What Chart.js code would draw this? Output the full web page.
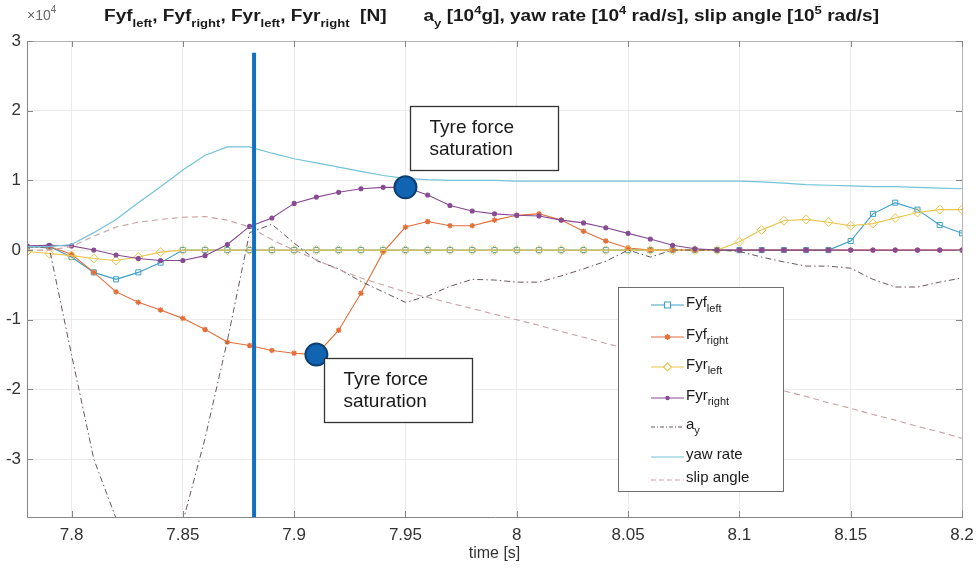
<!DOCTYPE html>
<html>
<head>
<meta charset="utf-8">
<script src="https://cdn.jsdelivr.net/npm/chart.js@4.4.1/dist/chart.umd.min.js"></script>
<style>
  html, body { margin: 0; padding: 0; background: #fff; }
  canvas { display: block; }
</style>
</head>
<body>
<canvas id="chart" width="979" height="571" style="width:979px;height:571px"></canvas>
<script>
// time axis [s], one sample each 0.01 s
const time = [7.78, 7.79, 7.80, 7.81, 7.82, 7.83, 7.84, 7.85, 7.86, 7.87,
              7.88, 7.89, 7.90, 7.91, 7.92, 7.93, 7.94, 7.95, 7.96, 7.97,
              7.98, 7.99, 8.00, 8.01, 8.02, 8.03, 8.04, 8.05, 8.06, 8.07,
              8.08, 8.09, 8.10, 8.11, 8.12, 8.13, 8.14, 8.15, 8.16, 8.17,
              8.18, 8.19, 8.20];

// values in units of 10^4
const fyfLeft = [0.04, 0.05, -0.10, -0.32, -0.42, -0.32, -0.18, 0, 0, 0,
                 0, 0, 0, 0, 0, 0, 0, 0, 0, 0,
                 0, 0, 0, 0, 0, 0, 0, 0, 0, 0,
                 0, 0, 0, 0, 0, 0, 0, 0.13, 0.52, 0.68,
                 0.58, 0.36, 0.24];
const fyfRight = [0.05, 0.05, -0.06, -0.32, -0.60, -0.75, -0.86, -0.98, -1.14, -1.32,
                  -1.37, -1.44, -1.48, -1.50, -1.15, -0.62, -0.03, 0.33, 0.41, 0.35,
                  0.35, 0.43, 0.50, 0.52, 0.43, 0.27, 0.13, 0.03, 0, 0,
                  0, 0, 0, 0, 0, 0, 0, 0, 0, 0,
                  0, 0, 0];
const fyrLeft = [-0.02, -0.05, -0.08, -0.12, -0.15, -0.10, -0.03, 0, 0, 0,
                 0, 0, 0, 0, 0, 0, 0, 0, 0, 0,
                 0, 0, 0, 0, 0, 0, 0, 0, 0, 0,
                 0, 0, 0.12, 0.29, 0.42, 0.44, 0.40, 0.35, 0.38, 0.46,
                 0.54, 0.58, 0.58];
const fyrRight = [0.06, 0.07, 0.06, 0.00, -0.07, -0.12, -0.15, -0.15, -0.08, 0.08,
                  0.34, 0.46, 0.67, 0.76, 0.83, 0.88, 0.90, 0.90, 0.79, 0.64,
                  0.56, 0.52, 0.50, 0.49, 0.43, 0.39, 0.32, 0.24, 0.16, 0.07,
                  0.02, 0, 0, 0, 0, 0, 0, 0, 0, 0,
                  0, 0, 0];
const ay = [0.05, 0.03, -1.50, -3.00, -3.85, -4.80, -4.80, -3.90, -2.70, -1.30,
            0.25, 0.37, 0.10, -0.15, -0.27, -0.45, -0.60, -0.75, -0.66, -0.52,
            -0.42, -0.43, -0.46, -0.46, -0.37, -0.27, -0.16, 0.00, -0.10, 0.00,
            0.00, 0.00, -0.02, -0.10, -0.17, -0.23, -0.23, -0.26, -0.42, -0.53,
            -0.53, -0.46, -0.40];
const yawRate = [0.05, 0.05, 0.08, 0.25, 0.44, 0.68, 0.91, 1.15, 1.36, 1.48,
                 1.48, 1.39, 1.31, 1.25, 1.19, 1.13, 1.07, 1.03, 1.01, 1.00,
                 1.00, 1.00, 0.99, 0.99, 0.99, 0.99, 0.99, 0.99, 0.99, 0.99,
                 0.99, 0.99, 0.99, 0.98, 0.96, 0.94, 0.93, 0.92, 0.91, 0.91,
                 0.90, 0.89, 0.88];
const slipAngle = [0.00, 0.00, 0.05, 0.20, 0.33, 0.40, 0.44, 0.47, 0.48, 0.43,
                   0.33, 0.15, 0.00, -0.14, -0.28, -0.40, -0.50, -0.60, -0.68, -0.76,
                   -0.84, -0.92, -1.00, -1.08, -1.17, -1.25, -1.34, -1.42, -1.50, -1.59,
                   -1.67, -1.76, -1.84, -1.93, -2.02, -2.10, -2.19, -2.27, -2.36, -2.44,
                   -2.53, -2.61, -2.70];

// marked instant and the two saturation points
const markerTime = [7.882, 7.882];
const markerLevel = [2.83, -3.83];
const saturationTime = [7.91, 7.95];
const saturationValue = [-1.50, 0.90];
const saturationText = ['Tyre force', 'saturation'];

const xTicks = [7.8, 7.85, 7.9, 7.95, 8, 8.05, 8.1, 8.15, 8.2];
const yTicks = [-3, -2, -1, 0, 1, 2, 3];

const FONT = '"Liberation Sans", Arial, Helvetica, sans-serif';

const C = {
    fyfLeft: '#3e9fc6',
    fyfRight: '#e26f3a',
    fyrLeft: '#e9c54c',
    fyrRight: '#874a93',
    ay: '#66565f',
    yaw: '#72c4d6',
    slip: '#c9a1a5'
};

const pts = (ys) => time.map((t, i) => ({ x: t, y: ys[i] }));

function series(label, ys, color, extra) {
    return Object.assign({
        label: label,
        data: pts(ys),
        borderColor: color,
        backgroundColor: color,
        borderWidth: 1.1,
        pointRadius: 0,
        tension: 0,
        fill: false
    }, extra);
}

const datasets = [
    {
        label: 'saturation',
        data: saturationTime.map((t, i) => ({ x: t, y: saturationValue[i] })),
        showLine: false,
        pointRadius: 11,
        pointBackgroundColor: '#1064b2',
        pointBorderColor: '#0b3f72',
        pointBorderWidth: 2,
        order: 0
    },
    {
        label: 'marker',
        data: markerTime.map((t, i) => ({ x: t, y: markerLevel[i] })),
        borderColor: '#1170c2',
        borderWidth: 4,
        pointRadius: 0,
        order: 1
    },
    series('slip angle', slipAngle, C.slip, { borderDash: [6, 4], order: 2 }),
    series('yaw rate', yawRate, C.yaw, { borderWidth: 1.2, order: 3 }),
    series('a_y', ay, C.ay, { borderDash: [6, 3, 1.5, 3], borderWidth: 1, order: 4 }),
    series('Fyr_right', fyrRight, C.fyrRight, { pointRadius: 2, pointStyle: 'circle', order: 5 }),
    series('Fyr_left', fyrLeft, C.fyrLeft, { pointRadius: 4.5, pointStyle: 'rectRot', pointBackgroundColor: 'rgba(0,0,0,0)', pointBorderWidth: 1, order: 6 }),
    series('Fyf_right', fyfRight, C.fyfRight, { pointRadius: 2.8, pointStyle: 'star', pointBorderWidth: 1.3, order: 7 }),
    series('Fyf_left', fyfLeft, C.fyfLeft, { pointRadius: 3.6, pointStyle: 'rect', pointBackgroundColor: 'rgba(0,0,0,0)', pointBorderWidth: 1, order: 8 })
];

// draws text runs with sub/superscripts, optional horizontal squeeze
function drawRuns(ctx, runs, x, y, size, bold, squeeze) {
    ctx.save();
    ctx.translate(x, y);
    ctx.scale(squeeze || 1, 1);
    ctx.textBaseline = 'middle';
    ctx.textAlign = 'left';
    let cx = 0;
    runs.forEach(r => {
        const s = r.sub || r.sup ? Math.round(size * 0.7) : size;
        ctx.font = (bold ? 'bold ' : '') + s + 'px ' + FONT;
        const dy = r.sub ? size * 0.42 : (r.sup ? -size * 0.38 : 0);
        ctx.fillText(r.t, cx, dy);
        cx += ctx.measureText(r.t).width;
    });
    ctx.restore();
    return cx;
}

function runsWidth(ctx, runs, size, bold) {
    let w = 0;
    runs.forEach(r => {
        const s = r.sub || r.sup ? Math.round(size * 0.7) : size;
        ctx.font = (bold ? 'bold ' : '') + s + 'px ' + FONT;
        w += ctx.measureText(r.t).width;
    });
    return w;
}

const titleRuns = [
    { t: 'Fyf' }, { t: 'left', sub: true }, { t: ', Fyf' }, { t: 'right', sub: true },
    { t: ', Fyr' }, { t: 'left', sub: true }, { t: ', Fyr' }, { t: 'right', sub: true },
    { t: '  [N]       a' }, { t: 'y', sub: true }, { t: ' [10' }, { t: '4', sup: true },
    { t: 'g], yaw rate [10' }, { t: '4', sup: true }, { t: ' rad/s], slip angle [10' },
    { t: '5', sup: true }, { t: ' rad/s]' }
];

const legendItems = [
    { runs: [{ t: 'Fyf' }, { t: 'left', sub: true }], color: C.fyfLeft, marker: 'square', y: 305 },
    { runs: [{ t: 'Fyf' }, { t: 'right', sub: true }], color: C.fyfRight, marker: 'star', y: 337 },
    { runs: [{ t: 'Fyr' }, { t: 'left', sub: true }], color: C.fyrLeft, marker: 'diamond', y: 367 },
    { runs: [{ t: 'Fyr' }, { t: 'right', sub: true }], color: C.fyrRight, marker: 'dot', y: 398 },
    { runs: [{ t: 'a' }, { t: 'y', sub: true }], color: C.ay, dash: [4, 2, 1, 2], y: 427 },
    { runs: [{ t: 'yaw rate' }], color: C.yaw, y: 457 },
    { runs: [{ t: 'slip angle' }], color: C.slip, dash: [5, 3], y: 480 }
];

const decor = {
    id: 'decor',
    afterDraw(chart) {
        const ctx = chart.ctx;
        const a = chart.chartArea;
        const xs = chart.scales.x, ys = chart.scales.y;

        // axes box with inward ticks
        ctx.save();
        ctx.lineWidth = 1;
        ctx.strokeStyle = '#b4b4b4';
        ctx.beginPath();
        ctx.moveTo(a.left, a.top + 0.5); ctx.lineTo(a.right + 0.5, a.top + 0.5);
        ctx.lineTo(a.right + 0.5, a.bottom);
        ctx.stroke();
        ctx.strokeStyle = '#858585';
        ctx.beginPath();
        ctx.moveTo(a.left + 0.5, a.top); ctx.lineTo(a.left + 0.5, a.bottom + 0.5);
        ctx.lineTo(a.right + 1, a.bottom + 0.5);
        ctx.stroke();
        ctx.beginPath();
        xTicks.forEach(v => {
            const px = Math.round(xs.getPixelForValue(v)) + 0.5;
            ctx.moveTo(px, a.bottom); ctx.lineTo(px, a.bottom - 6);
            ctx.moveTo(px, a.top); ctx.lineTo(px, a.top + 6);
        });
        yTicks.forEach(v => {
            const py = Math.round(ys.getPixelForValue(v)) + 0.5;
            ctx.moveTo(a.left, py); ctx.lineTo(a.left + 6, py);
            ctx.moveTo(a.right, py); ctx.lineTo(a.right - 6, py);
        });
        ctx.stroke();
        ctx.restore();

        // exponent label
        ctx.save();
        ctx.fillStyle = '#666';
        drawRuns(ctx, [{ t: '\u00d710' }, { t: '4', sup: true }], 27, 16, 14, false);
        ctx.restore();

        // title
        ctx.save();
        ctx.fillStyle = '#1a1a1a';
        const tw = runsWidth(ctx, titleRuns, 16, true);
        drawRuns(ctx, titleRuns, 104, 17, 16, true, 775 / tw);
        ctx.restore();

        // x axis label
        ctx.save();
        ctx.fillStyle = '#333';
        ctx.font = '16px ' + FONT;
        ctx.textAlign = 'center';
        ctx.textBaseline = 'middle';
        ctx.fillText('time [s]', (a.left + a.right) / 2, 554);
        ctx.restore();

        // annotation boxes
        const boxes = [
            { i: 1, dx: 5, dy: -81 },
            { i: 0, dx: 8, dy: 3 }
        ];
        boxes.forEach(b => {
            const px = xs.getPixelForValue(saturationTime[b.i]);
            const py = ys.getPixelForValue(saturationValue[b.i]);
            const bx = Math.round(px + b.dx) + 0.5, by = Math.round(py + b.dy) + 0.5;
            ctx.save();
            ctx.fillStyle = '#fff';
            ctx.strokeStyle = '#333';
            ctx.lineWidth = 1.3;
            ctx.fillRect(bx, by, 148, 64);
            ctx.strokeRect(bx, by, 148, 64);
            ctx.fillStyle = '#1a1a1a';
            ctx.font = '19px ' + FONT;
            ctx.textBaseline = 'middle';
            ctx.fillText(saturationText[0], bx + 19, by + 21);
            ctx.fillText(saturationText[1], bx + 19, by + 43);
            ctx.restore();
        });

        // legend
        ctx.save();
        ctx.fillStyle = '#fff';
        ctx.fillRect(618.5, 287.5, 165, 204);
        ctx.strokeStyle = '#6e6e6e';
        ctx.lineWidth = 1;
        ctx.strokeRect(618.5, 287.5, 165, 204);
        legendItems.forEach(it => {
            ctx.save();
            ctx.strokeStyle = it.color;
            ctx.lineWidth = 1.1;
            ctx.setLineDash(it.dash || []);
            ctx.beginPath();
            ctx.moveTo(651, it.y); ctx.lineTo(684, it.y);
            ctx.stroke();
            ctx.setLineDash([]);
            const mx = 667.5, my = it.y;
            ctx.beginPath();
            if (it.marker === 'square') {
                ctx.rect(mx - 3, my - 3, 6, 6);
                ctx.fillStyle = '#fff'; ctx.fill(); ctx.stroke();
            } else if (it.marker === 'diamond') {
                ctx.moveTo(mx, my - 4); ctx.lineTo(mx + 4, my); ctx.lineTo(mx, my + 4); ctx.lineTo(mx - 4, my); ctx.closePath();
                ctx.fillStyle = '#fff'; ctx.fill(); ctx.stroke();
            } else if (it.marker === 'star') {
                ctx.lineWidth = 1.4;
                ctx.moveTo(mx - 3, my); ctx.lineTo(mx + 3, my);
                ctx.moveTo(mx, my - 3); ctx.lineTo(mx, my + 3);
                ctx.moveTo(mx - 2, my - 2); ctx.lineTo(mx + 2, my + 2);
                ctx.moveTo(mx - 2, my + 2); ctx.lineTo(mx + 2, my - 2);
                ctx.stroke();
            } else if (it.marker === 'dot') {
                ctx.arc(mx, my, 2.2, 0, Math.PI * 2);
                ctx.fillStyle = it.color; ctx.fill();
            }
            ctx.restore();
            ctx.fillStyle = '#1a1a1a';
            drawRuns(ctx, it.runs, 686, it.y - 2, 15, false);
        });
        ctx.restore();
    }
};

new Chart(document.getElementById('chart'), {
    type: 'line',
    data: { datasets: datasets },
    options: {
        responsive: false,
        animation: false,
        devicePixelRatio: 1,
        layout: { padding: { top: 41, right: 17, left: 0, bottom: 0 } },
        scales: {
            x: {
                type: 'linear',
                min: 7.78,
                max: 8.2,
                afterFit: (s) => { s.height = 54; s.paddingLeft = 0; s.paddingRight = 0; },
                afterBuildTicks: (s) => { s.ticks = xTicks.map(v => ({ value: v })); },
                ticks: {
                    padding: 8,
                    color: '#333',
                    font: { family: FONT, size: 17 },
                    maxRotation: 0,
                    autoSkip: false,
                    callback: (v) => String(Number(v.toFixed(2)))
                },
                grid: { color: '#ebebeb', drawTicks: false },
                border: { display: false }
            },
            y: {
                min: -3.83,
                max: 3,
                afterFit: (s) => { s.width = 27; s.paddingTop = 0; s.paddingBottom = 0; },
                afterBuildTicks: (s) => { s.ticks = yTicks.map(v => ({ value: v })); },
                ticks: {
                    padding: 6,
                    color: '#333',
                    font: { family: FONT, size: 17 },
                    callback: (v) => String(v)
                },
                grid: { color: '#ebebeb', drawTicks: false },
                border: { display: false }
            }
        },
        plugins: {
            legend: { display: false },
            title: { display: false },
            tooltip: { enabled: false }
        }
    },
    plugins: [decor]
});
</script>
</body>
</html>
